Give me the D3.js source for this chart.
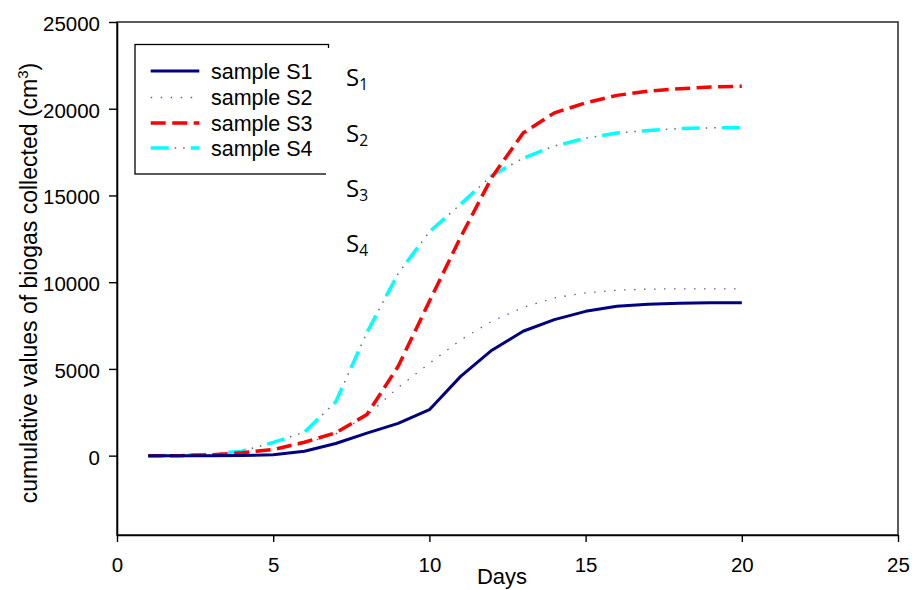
<!DOCTYPE html>
<html>
<head>
<meta charset="utf-8">
<script src="https://cdn.jsdelivr.net/npm/d3@7"></script>
<style>
  html, body { margin: 0; padding: 0; background: #fff; }
  svg { display: block; }
  text { font-family: "Liberation Sans", Arial, sans-serif; fill: #000; }
</style>
</head>
<body>
<svg id="chart" width="912" height="590"></svg>
<script>
// ---- data ----
const days = [1, 2, 3, 4, 5, 6, 7, 8, 9, 10, 11, 12, 13, 14, 15, 16, 17, 18, 19, 20];
const sampleS1 = [0, 0, 0, 10, 50, 250, 700, 1300, 1860, 2650, 4570, 6080, 7170, 7840, 8320, 8610, 8730, 8790, 8810, 8810];
const sampleS2 = [0, 0, 30, 120, 330, 700, 1250, 2300, 3930, 5320, 6670, 7750, 8540, 9100, 9380, 9540, 9600, 9620, 9620, 9620];
const sampleS3 = [0, 0, 50, 170, 350, 770, 1320, 2370, 5150, 8900, 12600, 16050, 18600, 19760, 20340, 20770, 21020, 21150, 21250, 21300];
const sampleS4 = [0, 20, 80, 260, 760, 1350, 3100, 7100, 10500, 12900, 14500, 16150, 17150, 17850, 18300, 18600, 18750, 18850, 18900, 18900];
const seriesNames = ["sample S1", "sample S2", "sample S3", "sample S4"];
const subLabels = ["1", "2", "3", "4"];
const xTicks = [0, 5, 10, 15, 20, 25];
const yTicks = [0, 5000, 10000, 15000, 20000, 25000];

// ---- layout ----
const svg = d3.select("#chart");
const L = 117, R = 898, T = 22, B = 535;
const x = d3.scaleLinear().domain([0, 25]).range([L, R]);
const y = d3.scaleLinear().domain([-4575, 25000]).range([B, T]);

// frame (top / right)
svg.append("rect").attr("x", L).attr("y", T).attr("width", R - L).attr("height", B - T)
  .attr("fill", "none").attr("stroke", "#333").attr("stroke-width", 1.6);

// axes
const gx = svg.append("g").attr("transform", `translate(0,${B})`)
  .call(d3.axisBottom(x).tickValues(xTicks).tickSize(7).tickSizeOuter(0).tickFormat(d3.format("d")));
gx.selectAll("text").attr("y", 37).attr("dy", 0).style("font-size", "20.5px");
const gy = svg.append("g").attr("transform", `translate(${L},0)`)
  .call(d3.axisLeft(y).tickValues(yTicks).tickSize(8).tickSizeOuter(0).tickFormat(d3.format("d")));
gy.selectAll("text").attr("x", -17).attr("dy", 0).attr("y", 8.5).style("font-size", "20.5px");
svg.selectAll(".domain").attr("stroke", "#000").attr("stroke-width", 1.6);
svg.selectAll(".tick line").attr("stroke", "#000").attr("stroke-width", 1.4);
svg.selectAll(".tick text").attr("fill", "#000").style("font-family", "'Liberation Sans', Arial, sans-serif");

// axis titles
svg.append("text").attr("x", 502).attr("y", 584).attr("text-anchor", "middle")
  .style("font-size", "22px").text("Days");
const yt = svg.append("text").attr("transform", "translate(37,283) rotate(-90)")
  .attr("text-anchor", "middle").style("font-size", "23px");
yt.append("tspan").text("cumulative values of biogas collected (cm");
yt.append("tspan").attr("dy", -9).style("font-size", "15px").text("3");
yt.append("tspan").attr("dy", 9).text(")");

// series
const styles = [
  { color: "#000080", width: 3, dash: null },
  { color: "#5a5aae", width: 1.3, dash: "1.5,8.5" },
  { color: "#ff0000", width: 3.5, dash: "15,6.5" },
  { color: "#00ffff", width: 3.5, dash: "18,22", dots: true }
];
const allSeries = [sampleS1, sampleS2, sampleS3, sampleS4];
const line = d3.line().x(d => x(d[0])).y(d => y(d[1]));

function drawStyled(g, pts, s, pathFn) {
  const p = pathFn(pts);
  g.append("path").attr("d", p).attr("fill", "none").attr("stroke", s.color)
    .attr("stroke-width", s.width).attr("stroke-dasharray", s.dash)
    .attr("stroke-linejoin", "round");
  if (s.dots) {
    g.append("path").attr("d", p).attr("fill", "none").attr("stroke", "#4b6b8c")
      .attr("stroke-width", 1.5).attr("stroke-dasharray", "0,24,1.5,7,1.5,6");
  }
}

const gLines = svg.append("g");
[1, 3, 2, 0].forEach(i => {
  const pts = days.map((d, k) => [d, allSeries[i][k]]);
  drawStyled(gLines, pts, styles[i], line);
});

// legend
svg.append("rect").attr("x", 135).attr("y", 44.5).attr("width", 193.5).attr("height", 129.5)
  .attr("fill", "#fff").attr("stroke", "#000").attr("stroke-width", 1.3);
const legY = [71, 97.5, 123, 148];
const legTextY = [79, 105, 130.5, 155.5];
seriesNames.forEach((nm, i) => {
  const g = svg.append("g");
  const pts = [[150.7, legY[i]], [199.3, legY[i]]];
  drawStyled(g, pts, styles[i], d3.line());
  svg.append("text").attr("x", 211).attr("y", legTextY[i]).style("font-size", "21.5px").text(nm);
});

// S labels text box (white background covers legend right border)
svg.append("rect").attr("x", 326).attr("y", 48).attr("width", 70).attr("height", 212).attr("fill", "#fff");
const sY = [86, 141.5, 196.5, 251.5];
subLabels.forEach((s, i) => {
  const t = svg.append("text").attr("x", 346).attr("y", sY[i])
    .style("font-family", "'Open Sans', sans-serif").style("font-size", "24px");
  t.append("tspan").text("S");
  t.append("tspan").attr("dy", 4).style("font-size", "15.5px").text(s);
});
</script>
</body>
</html>
